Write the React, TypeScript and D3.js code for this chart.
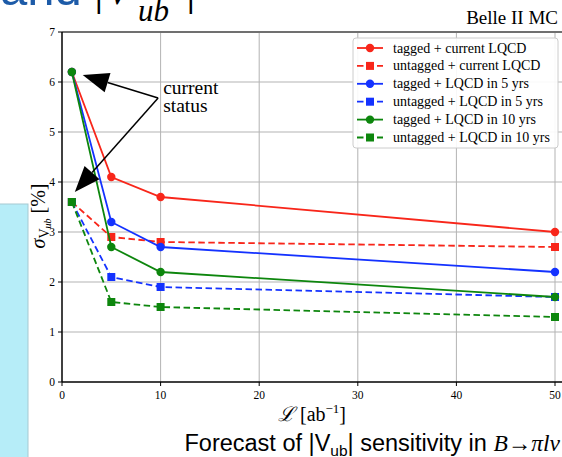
import React from 'react';
import * as d3 from 'd3';

const xValues = [1, 5, 10, 50];
const seriesNames = [
  'tagged + current LQCD',
  'untagged + current LQCD',
  'tagged + LQCD in 5 yrs',
  'untagged + LQCD in 5 yrs',
  'tagged + LQCD in 10 yrs',
  'untagged + LQCD in 10 yrs',
];
const taggedCurrent = [6.2, 4.1, 3.7, 3.0];
const untaggedCurrent = [3.6, 2.9, 2.8, 2.7];
const tagged5 = [6.2, 3.2, 2.7, 2.2];
const untagged5 = [3.6, 2.1, 1.9, 1.7];
const tagged10 = [6.2, 2.7, 2.2, 1.7];
const untagged10 = [3.6, 1.6, 1.5, 1.3];
const xTicks = [0, 10, 20, 30, 40, 50];
const yTicks = [0, 1, 2, 3, 4, 5, 6, 7];

// annotation anchor points in data coordinates
const annotText = { x: 9.75, y: 5.68 };
const annotTips = [
  { x: 2.1, y: 6.14 },
  { x: 1.3, y: 3.8 },
];

const RED = '#f8261a';
const BLUE = '#1432ff';
const GREEN = '#0d860d';

const seriesValues = [taggedCurrent, untaggedCurrent, tagged5, untagged5, tagged10, untagged10];
const seriesColors = [RED, RED, BLUE, BLUE, GREEN, GREEN];
const seriesDashed = [false, true, false, true, false, true];

const SERIF = '"Liberation Serif", "Times New Roman", serif';
const SANS = '"Liberation Sans", Arial, sans-serif';

function arrowHead(tipX: number, tipY: number, fromX: number, fromY: number, len: number, half: number) {
  const dx = fromX - tipX;
  const dy = fromY - tipY;
  const d = Math.sqrt(dx * dx + dy * dy);
  const ux = dx / d;
  const uy = dy / d;
  const bx = tipX + ux * len;
  const by = tipY + uy * len;
  const px = -uy;
  const py = ux;
  return {
    points: `${tipX},${tipY} ${bx + px * half},${by + py * half} ${bx - px * half},${by - py * half}`,
    bx,
    by,
  };
}

export default function App() {
  const W = 562;
  const H = 457;
  const x = d3.scaleLinear().domain([0, 51.5]).range([62, 62 + 51.5 * 9.86]);
  const y = d3.scaleLinear().domain([0, 7]).range([382, 32]);
  const x0 = x(0);
  const y0 = y(0);
  const yTop = y(7);

  const line = d3
    .line<number>()
    .x((_, i) => x(xValues[i]))
    .y((d) => y(d));

  const jx = x(annotText.x);
  const jy = y(annotText.y);

  const legendX = 353;
  const legendY = 38;
  const rowH = 17.9;

  return (
    <div style={{ position: 'fixed', left: 0, top: 0 }}>
      <svg width={W} height={H} style={{ display: 'block', background: '#fff' }}>
        {/* slide title fragment */}
        <text x={0} y={5} fontFamily={SANS} fontSize={49} fill="#1d5ba8">and</text>
        <text x={94} y={4} fontFamily={SERIF} fontSize={48} fill="#000">|</text>
        <text x={104} y={4} fontFamily={SERIF} fontSize={48} fontStyle="italic" fill="#000">V</text>
        <text x={138} y={21} fontFamily={SERIF} fontSize={31} fontStyle="italic" fill="#000">ub</text>
        <text x={186} y={4} fontFamily={SERIF} fontSize={48} fill="#000">|</text>

        {/* left slide panel */}
        <rect x={-2} y={204} width={30} height={270} fill="#b6edf8" stroke="#a6c9d2" strokeWidth={1} />

        {/* grid */}
        {xTicks.filter((t) => t > 0).map((t) => (
          <line key={'gx' + t} x1={x(t)} x2={x(t)} y1={y0} y2={yTop} stroke="#b3b3b3" strokeWidth={1} />
        ))}
        {yTicks.filter((t) => t > 0 && t < 7).map((t) => (
          <line key={'gy' + t} x1={x0} x2={W} y1={y(t)} y2={y(t)} stroke="#b3b3b3" strokeWidth={1} />
        ))}

        {/* spines */}
        <line x1={x0} x2={W} y1={yTop} y2={yTop} stroke="#707070" strokeWidth={2} />
        <line x1={x0} x2={W} y1={y0} y2={y0} stroke="#000" strokeWidth={1.5} />
        <line x1={x0} x2={x0} y1={y0} y2={yTop} stroke="#000" strokeWidth={1.5} />

        {/* ticks */}
        {xTicks.map((t) => (
          <g key={'xt' + t}>
            <line x1={x(t)} x2={x(t)} y1={y0} y2={y0 + 4} stroke="#000" strokeWidth={1} />
            <text x={x(t)} y={y0 + 17} textAnchor="middle" fontFamily={SERIF} fontSize={11.5} fill="#000">{t}</text>
          </g>
        ))}
        {yTicks.map((t) => (
          <g key={'yt' + t}>
            <line x1={x0 - 4} x2={x0} y1={y(t)} y2={y(t)} stroke="#000" strokeWidth={1} />
            <text x={x0 - 7} y={y(t) + 3.8} textAnchor="end" fontFamily={SERIF} fontSize={11.5} fill="#000">{t}</text>
          </g>
        ))}

        {/* series */}
        {seriesValues.map((vals, si) => (
          <g key={'s' + si}>
            <path
              d={line(vals) || ''}
              fill="none"
              stroke={seriesColors[si]}
              strokeWidth={1.8}
              strokeDasharray={seriesDashed[si] ? '6.5,3.5' : undefined}
            />
            {vals.map((v, i) =>
              seriesDashed[si] ? (
                <rect key={i} x={x(xValues[i]) - 4} y={y(v) - 4} width={8} height={8} fill={seriesColors[si]} />
              ) : (
                <circle key={i} cx={x(xValues[i])} cy={y(v)} r={4.2} fill={seriesColors[si]} />
              )
            )}
          </g>
        ))}

        {/* annotation */}
        {annotTips.map((tp, i) => {
          const tx = x(tp.x);
          const ty = y(tp.y);
          const h = arrowHead(tx, ty, jx, jy, 26, 10);
          return (
            <g key={'ar' + i}>
              <line x1={jx} y1={jy} x2={h.bx} y2={h.by} stroke="#000" strokeWidth={1.5} />
              <polygon points={h.points} fill="#000" />
            </g>
          );
        })}
        <text x={jx + 5} y={jy - 4} fontFamily={SERIF} fontSize={19.5} fill="#000">current</text>
        <text x={jx + 5} y={jy + 14} fontFamily={SERIF} fontSize={19.5} fill="#000">status</text>

        {/* Belle II MC */}
        <text x={558} y={24} textAnchor="end" fontFamily={SERIF} fontSize={19} fill="#000">Belle II MC</text>

        {/* legend */}
        <rect x={legendX} y={legendY} width={205} height={110} rx={3} fill="#fff" fillOpacity={0.9} stroke="#cccccc" strokeWidth={1} />
        {seriesNames.map((name, i) => {
          const cy = legendY + 10 + i * rowH;
          return (
            <g key={'lg' + i}>
              <line
                x1={legendX + 4}
                x2={legendX + 30}
                y1={cy}
                y2={cy}
                stroke={seriesColors[i]}
                strokeWidth={1.8}
                strokeDasharray={seriesDashed[i] ? '6.5,3.5' : undefined}
              />
              {seriesDashed[i] ? (
                <rect x={legendX + 13} y={cy - 4} width={8} height={8} fill={seriesColors[i]} />
              ) : (
                <circle cx={legendX + 17} cy={cy} r={4.2} fill={seriesColors[i]} />
              )}
              <text x={legendX + 40} y={cy + 4.5} fontFamily={SERIF} fontSize={14} fill="#000">{name}</text>
            </g>
          );
        })}

        {/* axis labels */}
        <text transform={`translate(45,216) rotate(-90)`} textAnchor="middle" fontFamily={SERIF} fontSize={20} fill="#000">
          <tspan fontStyle="italic">σ</tspan>
          <tspan fontSize={14} dy={4}>V</tspan>
          <tspan fontSize={10} fontStyle="italic" dy={2}>ub</tspan>
          <tspan dy={-6}> [%]</tspan>
        </text>
        <text x={312} y={421} textAnchor="middle" fontFamily={SERIF} fontSize={20} fill="#000">
          <tspan fontFamily={'"DejaVu Serif", serif'} fontStyle="italic">ℒ</tspan>
          <tspan> [ab</tspan>
          <tspan fontSize={13} dy={-8}>−1</tspan>
          <tspan dy={8}>]</tspan>
        </text>

        {/* slide caption */}
        <text x={560} y={451} textAnchor="end" fontFamily={SANS} fontSize={23.5} fill="#000">
          Forecast of |V<tspan fontSize={15.5} dy={5}>ub</tspan>
          <tspan dy={-5}>| sensitivity in </tspan>
          <tspan fontFamily={SERIF} fontStyle="italic">B</tspan>
          <tspan fontFamily={SERIF}>→</tspan>
          <tspan fontFamily={SERIF} fontStyle="italic">πlν</tspan>
        </text>
      </svg>
    </div>
  );
}
